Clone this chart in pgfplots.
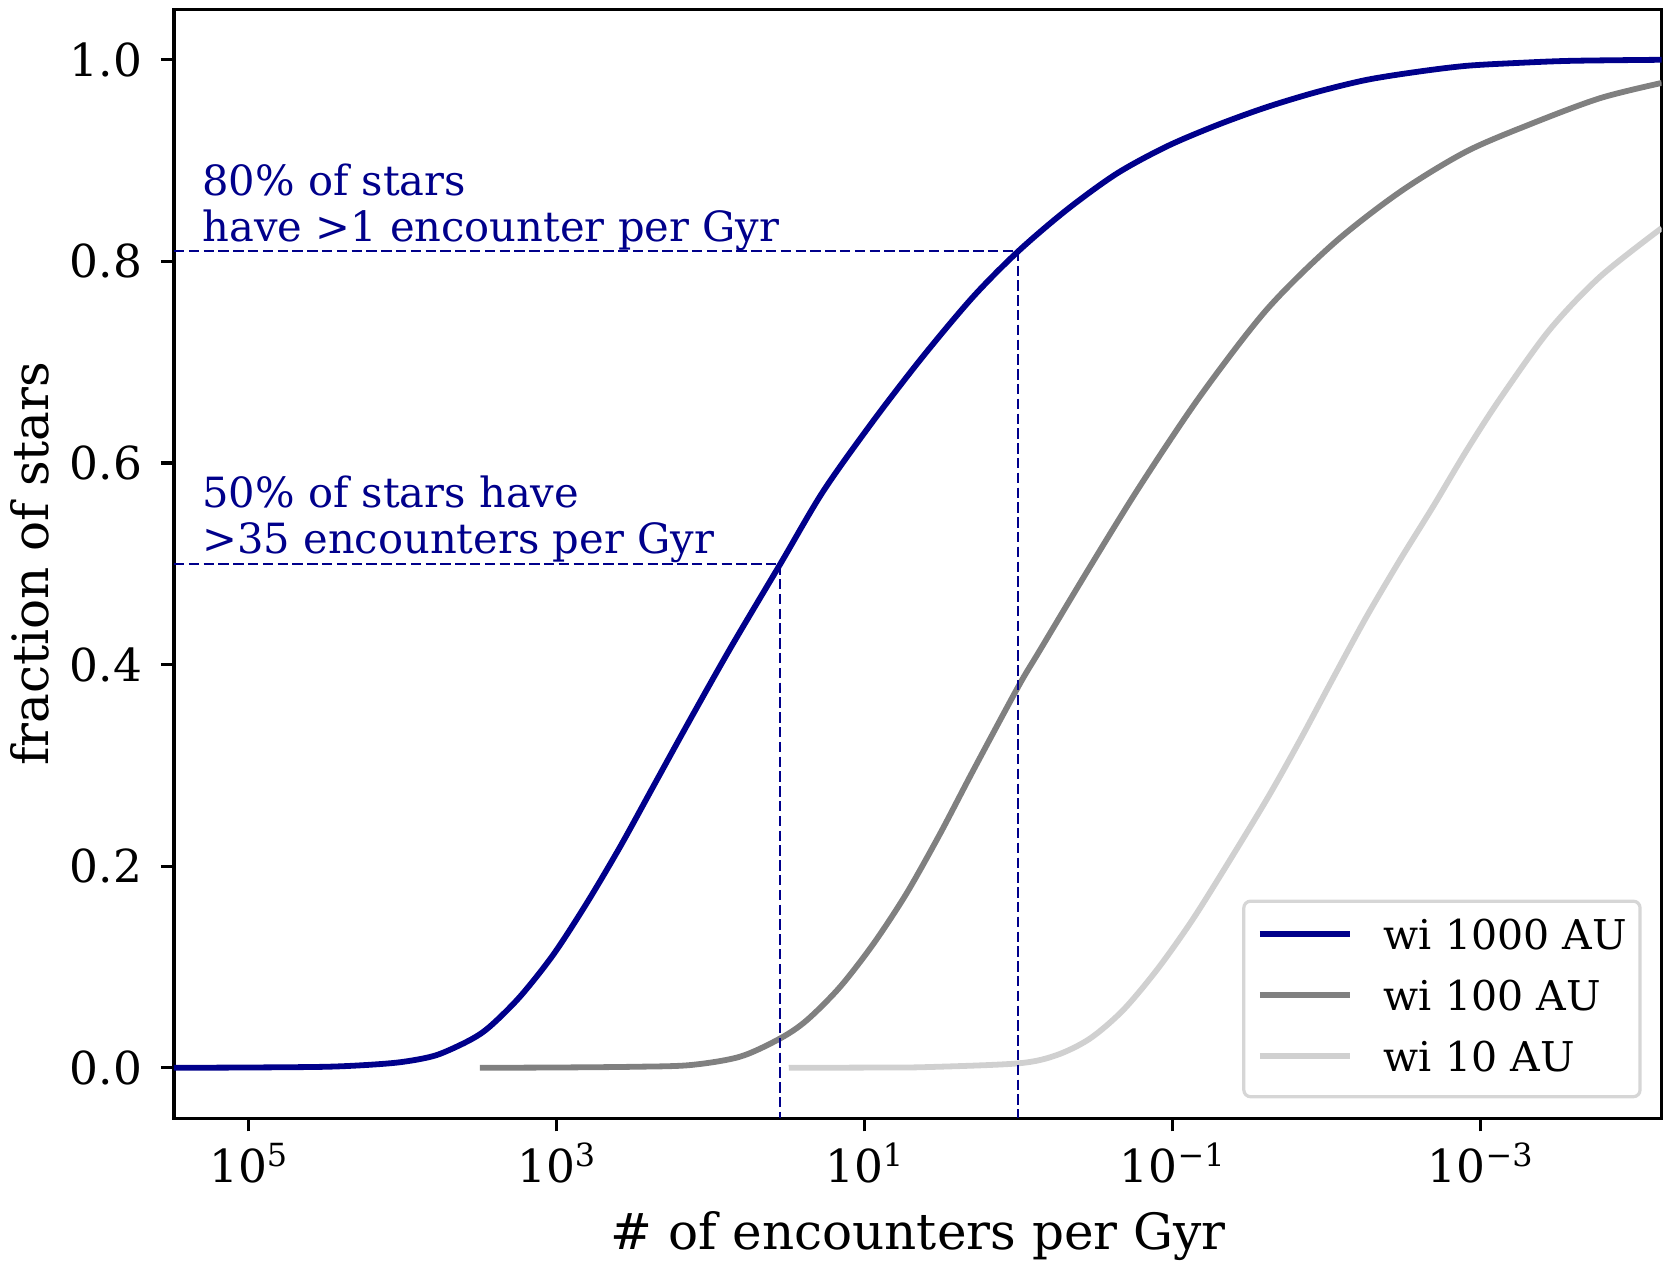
\documentclass[border=0pt]{standalone}
\usepackage{fontspec}
\setmainfont{DejaVu Serif}
\usepackage{pgfplots}
\pgfplotsset{compat=1.18}
\definecolor{navy}{HTML}{00008B}
\definecolor{mgray}{HTML}{808080}
\definecolor{lgray}{HTML}{D0D0D0}
\definecolor{frame}{HTML}{D6D6D6}
\newcommand\tsup[1]{\raisebox{0.36em}{\fontsize{8}{9}\selectfont #1}}
\begin{document}
\begin{tikzpicture}
\useasboundingbox (0,0) rectangle (418.25bp,316.25bp);
\begin{axis}[
  at={(43.5bp,36.7bp)}, anchor=south west,
  scale only axis, width=371.9bp, height=277.2bp,
  xmode=log, x dir=reverse,
  xmin=6.637e-5, xmax=3.034e5,
  ymin=-0.05, ymax=1.05,
  axis line style={line width=0.76bp},
  tick style={line width=0.76bp, black},
  major tick length=3.3bp,
  tick align=outside,
  xtick pos=bottom, ytick pos=left,
  xminorticks=false, yminorticks=false,
  xtick={1e5,1e3,1e1,1e-1,1e-3},
  xticklabels={10\tsup{5},10\tsup{3},10\tsup{1},10\tsup{−1},10\tsup{−3}},
  ytick={0,0.2,0.4,0.6,0.8,1.0},
  yticklabels={0.0,0.2,0.4,0.6,0.8,1.0},
  tick label style={font=\fontsize{11.4}{13.7}\selectfont},
  xticklabel style={anchor=base, inner sep=0pt, yshift=-12.8bp},
  yticklabel style={anchor=east, inner sep=0pt, xshift=-4.5bp},
  legend style={at={(0.9866,0.0179)}, anchor=south east,
    draw=frame, line width=0.8bp, rounded corners=1.7bp, fill=white,
    font=\fontsize{10.3}{12}\selectfont,
    inner xsep=3.3bp, inner ysep=4.5bp, row sep=5.7bp,
    nodes={inner sep=0pt, text height=7.6bp, text depth=1.9bp},
    /tikz/every even column/.append style={column sep=0pt}},
  legend cell align=left,
  legend image code/.code={\draw[#1, line width=1.45bp] (0bp,0.95bp) -- (22.5bp,0.95bp); \path (30.25bp,0bp);},
]
\addplot[navy, line width=1.45bp, smooth] coordinates {
(3.034e5,0) (1e5,0.0003) (3.162e4,0.001) (1.622e4,0.003) (9772,0.006) (5984,0.0126) (3631,0.0275) (2692,0.041) (1722,0.0704) (1047,0.112) (635.3,0.163) (385.5,0.219) (234.4,0.279) (139.0,0.342) (74.13,0.416) (35.0,0.5) (18.45,0.572) (8.710,0.642) (4.140,0.706) (1.959,0.765) (1,0.81) (0.4853,0.851) (0.2296,0.887) (0.1086,0.914) (0.05152,0.935) (0.02438,0.953) (0.01153,0.968) (0.005495,0.980) (0.002588,0.988) (0.001230,0.994) (5.495e-4,0.997) (2.512e-4,0.999) (6.637e-5,1.0)
};
\addlegendentry{wi 1000 AU\hspace{2.1bp}}
\addplot[mgray, line width=1.45bp, smooth] coordinates {
(3133,0) (1000,0.0003) (316.2,0.001) (134.9,0.0027) (64.12,0.011) (35.24,0.029) (23.66,0.047) (14.39,0.080) (8.710,0.123) (5.309,0.173) (3.221,0.232) (1.959,0.295) (1,0.378) (0.7244,0.414) (0.3420,0.497) (0.1622,0.577) (0.06607,0.666) (0.02438,0.752) (0.008913,0.818) (0.003311,0.869) (0.001230,0.909) (4.571e-4,0.937) (1.660e-4,0.962) (6.637e-5,0.977)
};
\addlegendentry{wi 100 AU}
\addplot[lgray, line width=1.45bp, smooth] coordinates {
(30.9,0) (10,0.0002) (4.140,0.0006) (1,0.0044) (0.5623,0.0126) (0.3420,0.029) (0.2089,0.057) (0.1259,0.097) (0.07674,0.143) (0.04898,0.190) (0.02438,0.266) (0.01479,0.325) (0.008913,0.388) (0.005495,0.447) (0.003311,0.504) (0.002018,0.557) (0.001230,0.612) (7.413e-4,0.664) (3.548e-4,0.732) (1.660e-4,0.785) (6.637e-5,0.833)
};
\addlegendentry{wi 10 AU}
\addplot[navy, line width=0.5bp, dash pattern=on 2.6bp off 1.1bp, forget plot] coordinates {(3.034e5,0.81) (1,0.81) (1,-0.05)};
\addplot[navy, line width=0.5bp, dash pattern=on 2.6bp off 1.1bp, forget plot] coordinates {(3.034e5,0.5) (35,0.5) (35,-0.05)};
\node[anchor=south west, inner sep=0pt, align=left, text=navy, font=\fontsize{10.45}{11.6}\selectfont] at (axis cs:2.007e5,0.81) {80\% of stars\\have >1 encounter per Gyr};
\node[anchor=south west, inner sep=0pt, align=left, text=navy, font=\fontsize{10.45}{11.6}\selectfont] at (axis cs:2.007e5,0.5) {50\% of stars have\\>35 encounters per Gyr};
\end{axis}
\node[rotate=90, anchor=base, font=\fontsize{12.55}{15}\selectfont] at (12bp,175.3bp) {fraction of stars};
\node[anchor=base, font=\fontsize{12.55}{15}\selectfont] at (229.5bp,3.9bp) {\# of encounters per Gyr};
\end{tikzpicture}
\end{document}
